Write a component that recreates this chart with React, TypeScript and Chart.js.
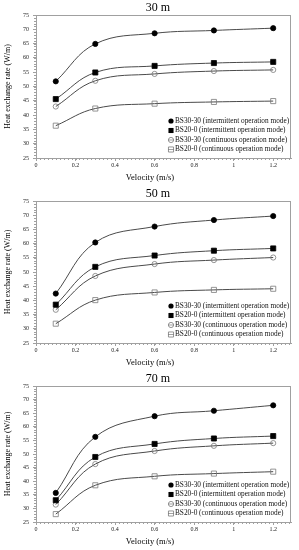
import React, { useEffect, useRef } from "react";
import { Chart, registerables } from "chart.js";

Chart.register(...registerables);

// ---------- data ----------
const velocity = [0.1, 0.3, 0.6, 0.9, 1.2];
const depthTitles = ["30 m", "50 m", "70 m"];
const seriesNames = [
  "BS30-30 (intermittent operation mode)",
  "BS20-0 (intermittent operation mode)",
  "BS30-30 (continuous operation mode)",
  "BS20-0 (continuous operation mode)",
];

const bs3030Int30 = [51.8, 64.9, 68.6, 69.6, 70.4];
const bs200Int30 = [45.6, 54.9, 57.2, 58.2, 58.6];
const bs3030Cont30 = [43.0, 52.0, 54.4, 55.4, 55.8];
const bs200Cont30 = [36.3, 42.3, 44.0, 44.6, 44.9];

const bs3030Int50 = [42.4, 60.4, 66.0, 68.3, 69.7];
const bs200Int50 = [38.5, 51.8, 55.8, 57.5, 58.3];
const bs3030Cont50 = [36.7, 48.6, 52.8, 54.2, 55.1];
const bs200Cont50 = [31.8, 40.1, 42.8, 43.7, 44.1];

const bs3030Int70 = [35.7, 56.3, 63.9, 65.9, 67.9];
const bs200Int70 = [33.0, 48.9, 53.7, 55.7, 56.6];
const bs3030Cont70 = [31.4, 46.3, 51.1, 53.0, 54.0];
const bs200Cont70 = [27.9, 38.5, 41.8, 42.8, 43.5];

const yMin = 25;
const yMax = 75;
const yStep = 5;
const xMin = 0;
const xMax = 1.29;
const xStep = 0.2;

const xTitle = "Velocity (m/s)";
const yTitle = "Heat exchange rate (W/m)";

const panelSeries = [
  [bs3030Int30, bs200Int30, bs3030Cont30, bs200Cont30],
  [bs3030Int50, bs200Int50, bs3030Cont50, bs200Cont50],
  [bs3030Int70, bs200Int70, bs3030Cont70, bs200Cont70],
];

// ---------- layout / style ----------
const FONT = "'Liberation Serif', 'Times New Roman', serif";
const panelLayout = [
  { top: 0, height: 183, padTop: 15, bottom: 158 },
  { top: 183, height: 184, padTop: 18, bottom: 160 },
  { top: 367, height: 183, padTop: 19, bottom: 155 },
];
const markerStyles = [
  { shape: "circle", filled: true, r: 2.6 },
  { shape: "rect", filled: true, r: 3.6 },
  { shape: "circle", filled: false, r: 2.6 },
  { shape: "rect", filled: false, r: 3.6 },
];
const LINE_COLOR = "#4a4a4a";
const OPEN_COLOR = "#7a7a7a";
const FRAME_COLOR = "#a0a0a0";

function drawMarker(ctx: CanvasRenderingContext2D, idx: number, x: number, y: number) {
  const m = markerStyles[idx];
  ctx.save();
  ctx.lineWidth = 0.8;
  if (m.shape === "circle") {
    ctx.beginPath();
    ctx.arc(x, y, m.r, 0, Math.PI * 2);
  } else {
    const s = m.r * Math.SQRT1_2;
    ctx.beginPath();
    ctx.rect(x - s, y - s, 2 * s, 2 * s);
  }
  if (m.filled) {
    ctx.fillStyle = "#000";
    ctx.fill();
  } else {
    ctx.strokeStyle = OPEN_COLOR;
    ctx.stroke();
  }
  ctx.restore();
}

function makeDecor(title: string) {
  return {
    id: "decor",
    afterDraw(chart: any) {
      const ctx: CanvasRenderingContext2D = chart.ctx;
      const { left, right, top, bottom } = chart.chartArea;
      const xs = chart.scales.x;
      const ys = chart.scales.y;
      ctx.save();
      // frame
      ctx.strokeStyle = FRAME_COLOR;
      ctx.lineWidth = 1;
      ctx.strokeRect(left + 0.5, top + 0.5, right - left - 1, bottom - top);
      // minor ticks
      ctx.beginPath();
      for (let v = yMin; v <= yMax + 1e-9; v += 1) {
        const py = Math.round(ys.getPixelForValue(v)) + 0.5;
        ctx.moveTo(left - 2, py);
        ctx.lineTo(left, py);
      }
      for (let i = 0; i * 0.02 <= xMax + 1e-9; i++) {
        const px = Math.round(xs.getPixelForValue(i * 0.02)) + 0.5;
        ctx.moveTo(px, bottom);
        ctx.lineTo(px, bottom + 2);
      }
      ctx.stroke();
      // title
      ctx.fillStyle = "#000";
      ctx.textAlign = "center";
      ctx.textBaseline = "middle";
      ctx.font = `12px ${FONT}`;
      ctx.fillText(title, 158, top - 7);
      // axis titles
      ctx.font = `8.5px ${FONT}`;
      ctx.fillText(xTitle, 150, bottom + 19.5);
      ctx.save();
      ctx.translate(8, (top + bottom) / 2);
      ctx.rotate(-Math.PI / 2);
      ctx.font = `8px ${FONT}`;
      ctx.fillText(yTitle, 0, 0);
      ctx.restore();
      // legend
      ctx.font = `7.3px ${FONT}`;
      ctx.textAlign = "left";
      const mx = right - 120;
      const tx = right - 116;
      seriesNames.forEach((name, i) => {
        const ly = bottom - 8.5 - (3 - i) * 9.5;
        if (!markerStyles[i].filled) {
          ctx.strokeStyle = OPEN_COLOR;
          ctx.lineWidth = 0.7;
          ctx.beginPath();
          ctx.moveTo(mx - 3, ly);
          ctx.lineTo(mx + 3, ly);
          ctx.stroke();
        }
        drawMarker(ctx, i, mx, ly);
        ctx.fillStyle = "#111";
        ctx.fillText(name, tx, ly);
      });
      ctx.restore();
    },
  };
}

function Panel({ index }: { index: number }) {
  const ref = useRef<HTMLCanvasElement | null>(null);
  const lay = panelLayout[index];
  useEffect(() => {
    if (!ref.current) return;
    const series = panelSeries[index];
    const datasets = series.map((vals, i) => {
      const m = markerStyles[i];
      return {
        label: seriesNames[i],
        data: velocity.map((v, k) => ({ x: v, y: vals[k] })),
        borderColor: LINE_COLOR,
        borderWidth: 1,
        tension: 0.4,
        pointStyle: m.shape,
        pointRadius: m.r,
        pointBorderWidth: 0.8,
        pointBackgroundColor: m.filled ? "#000" : "rgba(0,0,0,0)",
        pointBorderColor: m.filled ? "#000" : OPEN_COLOR,
        fill: false,
      };
    });
    const chart = new Chart(ref.current, {
      type: "line",
      data: { datasets },
      plugins: [makeDecor(depthTitles[index])],
      options: {
        animation: false,
        responsive: false,
        devicePixelRatio: 1,
        layout: { padding: { top: lay.padTop, left: 0, right: 8, bottom: 0 } },
        plugins: { legend: { display: false }, tooltip: { enabled: false }, title: { display: false } },
        scales: {
          x: {
            type: "linear",
            min: xMin,
            max: xMax,
            afterFit: (s: any) => {
              s.height = lay.height - lay.bottom;
            },
            grid: { drawOnChartArea: false, drawTicks: true, tickLength: 3, color: FRAME_COLOR },
            border: { display: true, color: FRAME_COLOR },
            ticks: {
              stepSize: xStep,
              includeBounds: false,
              padding: 1,
              maxRotation: 0,
              color: "#222",
              font: { family: FONT, size: 6 },
              callback: (v: any) => String(Math.round(Number(v) * 10) / 10),
            },
          },
          y: {
            type: "linear",
            min: yMin,
            max: yMax,
            afterFit: (s: any) => {
              s.width = 36;
            },
            grid: { drawOnChartArea: false, drawTicks: true, tickLength: 3, color: FRAME_COLOR },
            border: { display: true, color: FRAME_COLOR },
            ticks: {
              stepSize: yStep,
              padding: 4,
              color: "#222",
              font: { family: FONT, size: 6 },
            },
          },
        },
      } as any,
    });
    return () => chart.destroy();
  }, [index]);
  return (
    <canvas
      ref={ref}
      width={299}
      height={lay.height}
      style={{ position: "absolute", left: 0, top: lay.top, width: 299, height: lay.height }}
    />
  );
}

export default function App() {
  return (
    <div style={{ position: "absolute", left: 0, top: 0, width: 299, height: 550, background: "#fff" }}>
      <Panel index={0} />
      <Panel index={1} />
      <Panel index={2} />
    </div>
  );
}
